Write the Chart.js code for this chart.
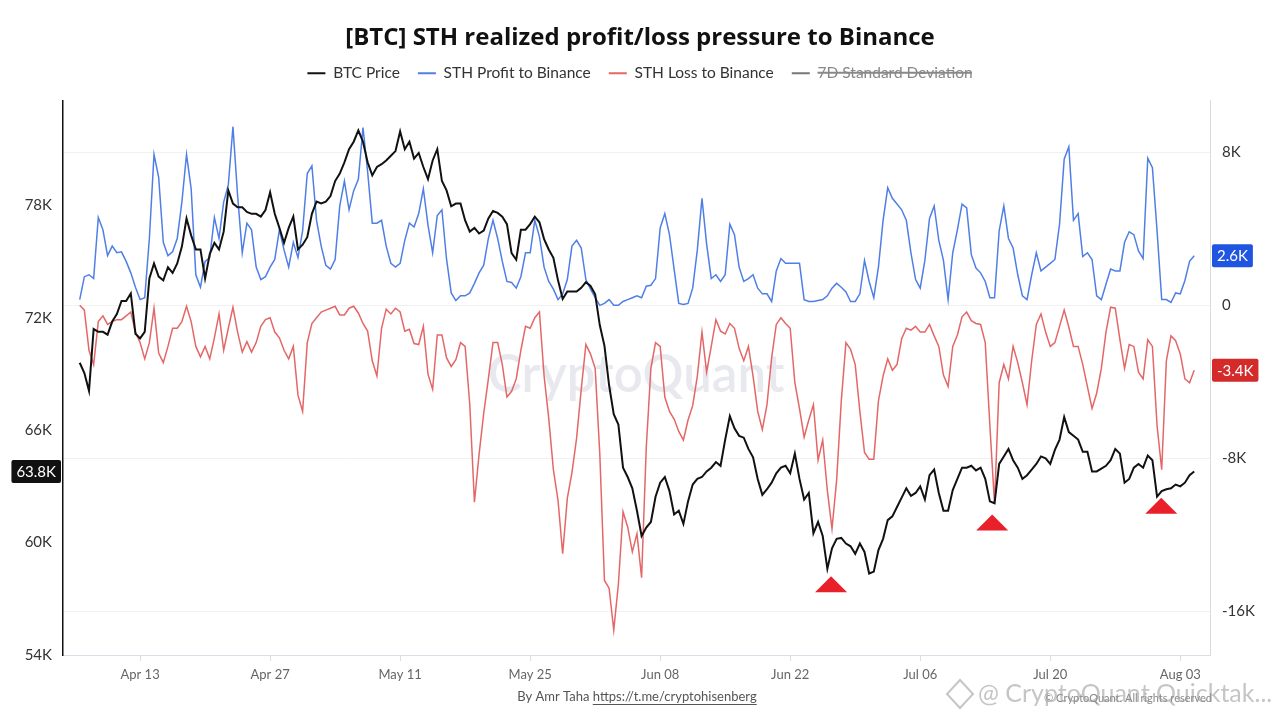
<!DOCTYPE html>
<html><head><meta charset="utf-8">
<script src="https://cdn.jsdelivr.net/npm/chart.js@4.4.1/dist/chart.umd.min.js"></script>
<style>html,body{margin:0;padding:0;background:#fff;}#wrap{width:1280px;height:720px;}</style>
</head><body><div id="wrap"><canvas id="c" width="1280" height="720"></canvas></div>
<script>
// ---- data (values in thousands) ----
const seriesStartDay = -6.5;   // days relative to Apr 13
const seriesStepDays = 0.5;

const btcPrice = [
69.6,69.05,68.1,71.4,71.25,71.25,71.1,71.8,72.2,72.9,72.9,
73.3,71.15,70.9,71.25,74.1,74.9,74.2,74.0,74.7,74.4,
74.9,75.8,77.3,76.4,75.65,75.65,74.1,75.4,76.0,75.65,
76.6,78.8,78.1,77.9,77.9,77.65,77.55,77.55,77.4,77.75,
78.7,77.55,76.8,76.0,76.8,77.4,75.65,75.9,76.3,77.55,
78.2,78.1,78.2,78.5,79.3,79.7,80.3,81.0,81.4,82.0,
81.4,80.3,79.6,80.05,80.2,80.4,80.65,80.9,81.95,81.0,
81.4,80.5,80.8,80.05,79.4,80.4,81.0,79.3,78.8,77.95,
78.1,78.1,77.2,76.6,76.8,76.5,76.65,77.3,77.7,77.6,
77.4,77.0,75.45,75.1,76.7,76.7,77.0,77.4,77.1,76.2,
75.65,75.2,74.0,73.0,73.4,73.4,73.4,73.6,73.9,73.7,
73.25,71.6,70.5,68.4,66.85,66.3,64.0,63.5,62.9,61.7,
60.35,60.8,61.1,62.45,63.2,63.5,62.75,61.5,61.7,61.0,
62.2,63.1,63.4,63.5,63.8,64.0,64.3,64.1,65.5,66.75,
66.1,65.7,65.6,65.0,64.55,63.4,62.55,62.85,63.2,63.7,
64.0,64.1,63.7,64.75,63.4,62.3,62.65,60.5,61.1,60.35,
58.6,59.7,60.2,60.25,59.95,59.8,59.4,59.95,59.5,58.35,
58.45,59.6,60.2,61.2,61.4,61.9,62.4,62.9,62.5,62.65,
63.0,62.3,63.6,63.9,62.65,61.7,61.7,62.8,63.4,64.0,
64.0,64.1,63.85,64.0,63.4,62.2,62.1,64.2,64.6,65.0,
64.4,64.0,63.4,63.6,63.9,64.2,64.6,64.5,64.2,64.95,
65.5,66.7,65.9,65.7,65.5,64.85,64.85,63.8,63.8,63.95,
64.1,64.4,65.0,64.75,63.2,63.4,64.0,64.2,64.0,64.65,
64.4,62.45,62.75,62.85,62.9,63.1,63.0,63.2,63.6,63.8
];

const sthProfit = [
0.3,1.5,1.6,1.4,4.6,3.95,2.6,3.1,2.75,2.8,2.3,
1.7,0.95,0.3,0.4,3.5,7.9,6.7,3.3,2.6,2.8,
3.5,5.4,7.9,6.1,1.6,0.95,2.3,2.5,4.6,3.5,
5.4,6.3,9.35,5.75,2.75,4.3,3.95,2.0,1.35,1.5,
2.0,2.4,3.95,2.9,2.0,3.3,2.5,3.9,6.9,7.3,
4.45,3.1,2.1,1.9,2.4,5.2,6.5,5.0,6.0,6.6,
9.3,7.0,4.3,4.3,4.45,3.1,2.2,2.0,2.2,3.4,
4.3,4.1,4.8,6.1,4.2,2.75,4.7,5.0,2.4,0.65,
0.25,0.5,0.5,0.65,1.15,1.7,2.1,3.5,4.45,3.5,
2.3,1.25,1.2,0.9,1.5,2.75,2.75,4.45,3.6,2.0,
1.25,0.85,0.3,0.6,1.35,3.1,3.4,3.0,1.35,0.85,
0.4,0.0,0.1,0.3,0.0,0.0,0.2,0.3,0.4,0.5,
0.4,1.0,1.05,1.4,4.05,4.8,3.7,1.9,0.1,0.05,
0.1,0.9,2.9,5.6,3.2,1.4,1.6,1.25,1.6,4.25,
3.7,2.0,1.25,1.4,1.6,0.9,0.6,0.6,0.2,1.8,
2.45,2.2,2.2,2.2,2.2,0.3,0.2,0.2,0.25,0.3,
0.5,0.9,1.15,0.95,0.7,0.2,0.2,0.6,2.35,1.25,
0.4,2.0,4.45,6.15,5.6,5.3,5.0,4.45,2.75,1.35,
0.9,2.35,4.55,5.2,3.4,2.35,0.3,2.75,3.95,5.3,
5.1,2.65,1.95,1.7,1.25,0.4,0.4,3.9,5.2,3.5,
3.0,1.6,0.5,0.3,1.6,2.75,1.8,2.0,2.2,2.4,
4.25,7.65,8.3,4.45,4.8,2.55,2.75,2.4,0.5,0.3,
1.1,1.9,1.8,1.8,3.3,3.85,3.7,2.85,2.45,7.7,
7.2,3.9,0.3,0.3,0.15,0.65,0.6,1.3,2.3,2.6
];

const sthLoss = [
0.0,-0.25,-2.35,-3.1,-0.85,-0.55,-1.0,-0.85,-0.75,-0.75,-0.55,
-0.35,-1.4,-1.95,-2.8,-1.95,-0.15,-2.5,-3.0,-2.15,-1.2,
-1.2,-0.85,-0.05,-0.85,-2.15,-2.7,-2.15,-2.8,-1.7,-0.45,
-2.35,-1.2,-0.1,-1.4,-2.45,-1.9,-2.45,-1.95,-1.1,-0.75,
-0.65,-1.4,-1.7,-2.35,-2.8,-2.15,-4.7,-5.55,-1.95,-0.95,
-0.65,-0.35,-0.25,-0.15,-0.05,-0.5,-0.5,-0.15,-0.05,-0.4,
-0.95,-1.35,-2.9,-3.7,-1.2,-0.2,-0.45,-0.15,-0.35,-1.35,
-1.25,-2.0,-2.05,-1.1,-3.6,-4.4,-1.55,-1.55,-2.75,-3.2,
-2.85,-1.95,-2.15,-5.2,-10.3,-7.8,-5.65,-3.85,-1.95,-1.95,
-3.1,-4.8,-4.5,-3.85,-2.35,-1.1,-1.2,-0.65,-0.35,-3.7,
-5.9,-8.6,-10.2,-13.0,-10.1,-8.75,-6.95,-4.4,-2.05,-2.55,
-3.3,-7.8,-14.4,-14.8,-17.0,-14.6,-10.8,-11.6,-12.9,-11.95,
-14.25,-7.45,-3.3,-1.95,-2.15,-4.8,-5.55,-5.95,-6.6,-7.05,
-6.0,-5.25,-3.7,-1.4,-3.5,-2.15,-0.75,-1.35,-1.5,-0.95,
-1.2,-2.25,-2.9,-2.15,-3.7,-5.55,-6.5,-5.2,-2.75,-1.0,
-0.65,-0.95,-1.2,-4.05,-5.4,-6.9,-6.0,-5.2,-8.1,-7.05,
-9.7,-11.7,-9.15,-5.0,-1.95,-2.3,-3.1,-5.55,-7.7,-8.05,
-8.05,-5.0,-3.7,-2.8,-3.4,-3.1,-1.75,-1.2,-1.3,-1.1,
-1.4,-1.4,-1.0,-1.6,-2.15,-3.65,-4.25,-2.15,-1.55,-0.6,
-0.35,-0.8,-0.95,-1.0,-1.95,-6.3,-10.4,-4.05,-3.1,-3.85,
-2.15,-3.0,-4.05,-5.2,-2.9,-1.0,-0.45,-1.4,-2.15,-1.95,
-1.1,-0.25,-1.15,-2.15,-2.15,-3.1,-4.25,-5.4,-4.6,-3.3,
-1.4,-0.1,-0.15,-1.8,-3.3,-2.05,-2.15,-3.5,-3.85,-1.8,
-2.15,-6.3,-8.6,-2.9,-1.6,-1.85,-2.55,-3.85,-4.05,-3.4
];

const stdDev = [];

const xTickDays = [0,14,28,42,56,70,84,98,112];
const xTickLabels = ['Apr 13','Apr 27','May 11','May 25','Jun 08','Jun 22','Jul 06','Jul 20','Aug 03'];
const priceTicks = [54,60,66,72,78];
const flowTicks = [-16,-8,0,8];

const markerDays = [74.4, 91.75, 109.95];
const markerPrices = [58.2, 61.5, 62.4];

// ---- build points ----
const dayOf = i => seriesStartDay + i * seriesStepDays;
const toPts = arr => arr.map((v, i) => ({x: dayOf(i), y: v}));

const FONT = 'Lato, "Open Sans", sans-serif';
const TITLE_FONT = '"Open Sans", Lato, sans-serif';
const BLUE = '#4f7fe6', RED = '#e46767', BLACK = '#111111';

const legendGap = {
  id: 'legendGap',
  beforeInit(chart) {
    const fit = chart.legend.fit;
    chart.legend.fit = function () { fit.call(this); this.height += 9.5; };
  }
};

const watermark = {
  id: 'watermark',
  beforeDatasetsDraw(chart) {
    const {ctx} = chart;
    ctx.save();
    ctx.font = '600 51px ' + FONT;
    ctx.fillStyle = 'rgba(205,205,220,0.45)';
    ctx.textAlign = 'center';
    ctx.textBaseline = 'middle';
    ctx.fillText('CryptoQuant', 636, 376);
    ctx.restore();
  }
};

const markers = {
  id: 'markers',
  afterDatasetsDraw(chart) {
    const {ctx} = chart;
    const xs = chart.scales.x, ys = chart.scales.yPrice;
    ctx.save();
    ctx.fillStyle = '#e8202a';
    markerDays.forEach((d, k) => {
      const px = xs.getPixelForValue(d), py = ys.getPixelForValue(markerPrices[k]);
      ctx.beginPath();
      ctx.moveTo(px, py);
      ctx.lineTo(px + 16, py + 16);
      ctx.lineTo(px - 16, py + 16);
      ctx.closePath();
      ctx.fill();
    });
    ctx.restore();
  }
};

const lastLabels = {
  id: 'lastLabels',
  afterDraw(chart) {
    const {ctx, chartArea} = chart;
    const yR = chart.scales.yFlow, yL = chart.scales.yPrice;
    ctx.save();
    ctx.font = '15px ' + FONT;
    ctx.textBaseline = 'middle';
    const box = (txt, color, y, side) => {
      const w = ctx.measureText(txt).width + 10, h = 23;
      const x = side === 'right' ? chartArea.right + 2 : chartArea.left - 2 - w;
      ctx.fillStyle = color;
      ctx.beginPath();
      ctx.roundRect ? ctx.roundRect(x, y - h / 2, w, h, 2) : ctx.rect(x, y - h / 2, w, h);
      ctx.fill();
      ctx.fillStyle = '#fff';
      ctx.textAlign = 'left';
      ctx.fillText(txt, x + 5, y + 1);
    };
    const lp = sthProfit[sthProfit.length - 1], ll = sthLoss[sthLoss.length - 1], lb = btcPrice[btcPrice.length - 1];
    box(lp.toFixed(1) + 'K', '#1f55e0', yR.getPixelForValue(lp), 'right');
    box(ll.toFixed(1) + 'K', '#d42a2a', yR.getPixelForValue(ll), 'right');
    box(lb.toFixed(1) + 'K', '#111', yL.getPixelForValue(lb), 'left');

    // footer
    ctx.textBaseline = 'middle';
    ctx.font = '13px ' + FONT;
    const a = 'By Amr Taha ', b = 'https://t.me/cryptohisenberg';
    const wa = ctx.measureText(a).width, wb = ctx.measureText(b).width;
    const fx = 637 - (wa + wb) / 2;
    ctx.fillStyle = '#555';
    ctx.textAlign = 'left';
    ctx.fillText(a, fx, 697);
    ctx.fillText(b, fx + wa, 697);
    ctx.fillRect(fx + wa, 704, wb, 1);

    ctx.font = '11px ' + FONT;
    ctx.fillStyle = '#888';
    ctx.textAlign = 'right';
    ctx.fillText('© CryptoQuant. All rights reserved', 1212, 698);

    ctx.font = '25px ' + FONT;
    ctx.fillStyle = 'rgba(150,150,150,0.55)';
    ctx.textAlign = 'left';
    ctx.fillText('@ CryptoQuant Quicktak...', 978, 694);
    ctx.strokeStyle = 'rgba(150,150,150,0.55)';
    ctx.lineWidth = 2;
    ctx.beginPath();
    ctx.moveTo(960, 680); ctx.lineTo(973, 694); ctx.lineTo(960, 708); ctx.lineTo(947, 694); ctx.closePath();
    ctx.stroke();
    ctx.restore();
  }
};

new Chart(document.getElementById('c'), {
  type: 'line',
  data: {
    datasets: [
      {label: 'BTC Price', data: toPts(btcPrice), yAxisID: 'yPrice', borderColor: BLACK, backgroundColor: BLACK, borderWidth: 2},
      {label: 'STH Profit to Binance', data: toPts(sthProfit), yAxisID: 'yFlow', borderColor: BLUE, backgroundColor: BLUE, borderWidth: 1.5},
      {label: 'STH Loss to Binance', data: toPts(sthLoss), yAxisID: 'yFlow', borderColor: RED, backgroundColor: RED, borderWidth: 1.5},
      {label: '7D Standard Deviation', data: toPts(stdDev), yAxisID: 'yFlow', borderColor: '#777', backgroundColor: '#777', borderWidth: 1.5, hidden: true}
    ]
  },
  options: {
    responsive: false,
    animation: false,
    elements: {point: {radius: 0}, line: {tension: 0}},
    layout: {padding: {top: 0, bottom: 30, left: 0, right: 0}},
    plugins: {
      tooltip: {enabled: false},
      title: {
        display: true,
        text: '[BTC] STH realized profit/loss pressure to Binance',
        color: '#111',
        font: {family: TITLE_FONT, size: 24, weight: 'bold'},
        padding: {top: 24, bottom: -5.3}
      },
      legend: {
        display: true,
        labels: {
          color: '#333',
          font: {family: FONT, size: 15.5},
          boxWidth: 18,
          boxHeight: 2,
          padding: 18,
          generateLabels(chart) {
            const items = Chart.defaults.plugins.legend.labels.generateLabels(chart);
            items.forEach(it => {
              it.lineWidth = 0;
              it.fillStyle = it.strokeStyle;
              if (it.hidden) it.fontColor = '#888';
            });
            return items;
          }
        }
      }
    },
    scales: {
      x: {
        type: 'linear',
        min: -8.3, max: 115.2,
        afterBuildTicks: s => { s.ticks = xTickDays.map(v => ({value: v})); },
        afterFit: s => { s.height = 35; },
        ticks: {
          autoSkip: false, maxRotation: 0, color: '#666', padding: 6,
          font: {family: FONT, size: 13},
          callback: v => xTickLabels[xTickDays.indexOf(v)]
        },
        grid: {display: true, drawOnChartArea: false, drawTicks: true, tickLength: 6, color: '#dcdce6'},
        border: {display: true, color: '#dcdce6'}
      },
      yPrice: {
        position: 'left',
        min: 54, max: 83.6,
        afterBuildTicks: s => { s.ticks = priceTicks.map(v => ({value: v})); },
        afterFit: s => { s.width = 63; },
        ticks: {color: '#333', padding: 11, font: {family: FONT, size: 15}, callback: v => v + 'K'},
        grid: {display: false, drawTicks: false},
        border: {display: true, color: '#111', width: 1.5}
      },
      yFlow: {
        position: 'right',
        min: -18.3, max: 10.72,
        afterBuildTicks: s => { s.ticks = flowTicks.map(v => ({value: v})); },
        afterFit: s => { s.width = 70; },
        ticks: {color: '#333', padding: 12, font: {family: FONT, size: 15}, callback: v => v === 0 ? '0' : v + 'K'},
        grid: {color: '#f1f1f1', drawTicks: false},
        border: {display: true, color: '#dadada'}
      }
    }
  },
  plugins: [legendGap, watermark, markers, lastLabels]
});
</script>
</body></html>
